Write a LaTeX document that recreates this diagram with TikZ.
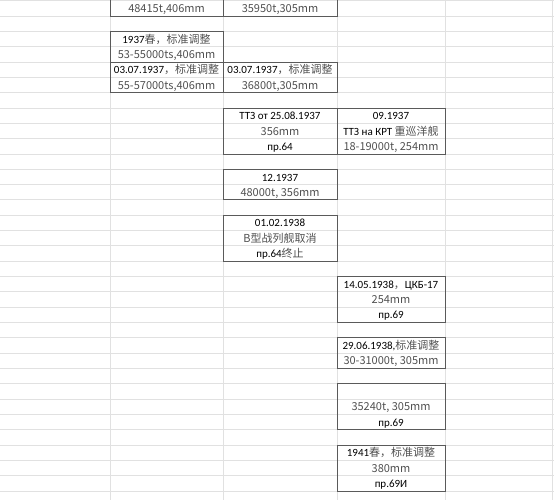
\documentclass[tikz,border=0pt]{standalone}
\usepackage{fontspec}
\setmainfont{Carlito}
\newfontfamily\cjk{Noto Sans CJK SC}
\usepackage{xcolor}
\definecolor{gridline}{RGB}{225,225,225}
\definecolor{cellborder}{RGB}{90,90,90}
\definecolor{songtext}{RGB}{80,80,80}
\newcommand{\zh}[1]{{\cjk\color{songtext}#1}}
\newcommand{\rowline}[1]{(0.8+15.32*(#1))}

\begin{document}
\begin{tikzpicture}[
    x=1pt, y=-1pt,
    every node/.style={font=\fontsize{11}{13}\selectfont, inner sep=0pt, anchor=base},
    grid/.style={draw=gridline, line width=1pt},
    cellbox/.style={draw=cellborder, line width=1pt}
]
\useasboundingbox (0,0) rectangle (554,500);

% sheet grid
\foreach \k in {0,...,32}
  \draw[grid] (0,{\rowline{\k}}) -- (554,{\rowline{\k}});
\foreach \x in {110,223,337,445,552}
  \draw[grid] (\x,0) -- (\x,500);

% bordered cells
\draw[cellbox] (110,0) -- (110,{\rowline{1}}) -- (337,{\rowline{1}}) -- (337,0);
\draw[cellbox] (223,0) -- (223,{\rowline{1}});
\draw[cellbox] (110,{\rowline{2}}) rectangle (223,{\rowline{4}});
\draw[cellbox] (110,{\rowline{4}}) rectangle (337,{\rowline{6}});
\draw[cellbox] (223,{\rowline{4}}) -- (223,{\rowline{6}});
\draw[cellbox] (223,{\rowline{7}}) rectangle (445,{\rowline{10}});
\draw[cellbox] (337,{\rowline{7}}) -- (337,{\rowline{10}});
\draw[cellbox] (223,{\rowline{11}}) rectangle (337,{\rowline{13}});
\draw[cellbox] (223,{\rowline{14}}) rectangle (337,{\rowline{17}});
\draw[cellbox] (337,{\rowline{18}}) rectangle (445,{\rowline{21}});
\draw[cellbox] (337,{\rowline{22}}) rectangle (445,{\rowline{24}});
\draw[cellbox] (337,{\rowline{25}}) rectangle (445,{\rowline{28}});
\draw[cellbox] (337,{\rowline{29}}) rectangle (445,{\rowline{32}});

% cell texts
\node (B0) at (166.5,{\rowline{0}+12.2}) {\zh{48415t,406mm}};
\node (C0) at (280,{\rowline{0}+12.2}) {\zh{35950t,305mm}};

\node (B2) at (166.5,{\rowline{2}+11.7}) {1937\zh{春，标准调整}};
\node (B3) at (166.5,{\rowline{3}+11.7}) {\zh{53-55000ts,406mm}};
\node (B4) at (166.5,{\rowline{4}+11.7}) {03.07.1937\zh{，标准调整}};
\node (B5) at (166.5,{\rowline{5}+11.7}) {\zh{55-57000ts,406mm}};
\node (C4) at (280,{\rowline{4}+11.7}) {03.07.1937\zh{，标准调整}};
\node (C5) at (280,{\rowline{5}+11.7}) {\zh{36800t,305mm}};

\node (C7) at (280,{\rowline{7}+11.7}) {ТТЗ от 25.08.1937};
\node (C8) at (280,{\rowline{8}+11.7}) {\zh{356mm}};
\node (C9) at (280,{\rowline{9}+11.7}) {пр.64};
\node (D7) at (391,{\rowline{7}+11.7}) {09.1937};
\node (D8) at (391,{\rowline{8}+11.7}) {ТТЗ на КРТ \zh{重巡洋舰}};
\node (D9) at (391,{\rowline{9}+11.7}) {\zh{18-19000t, 254mm}};

\node (C11) at (280,{\rowline{11}+11.7}) {12.1937};
\node (C12) at (280,{\rowline{12}+11.7}) {\zh{48000t, 356mm}};

\node (C14) at (280,{\rowline{14}+11.7}) {01.02.1938};
\node (C15) at (280,{\rowline{15}+11.7}) {\zh{B型战列舰取消}};
\node (C16) at (280,{\rowline{16}+11.7}) {пр.64\zh{终止}};

\node (D18) at (391,{\rowline{18}+11.7}) {14.05.1938\zh{，}ЦКБ-17};
\node (D19) at (391,{\rowline{19}+11.7}) {\zh{254mm}};
\node (D20) at (391,{\rowline{20}+11.7}) {пр.69};

\node (D22) at (391,{\rowline{22}+11.7}) {29.06.1938,\zh{标准调整}};
\node (D23) at (391,{\rowline{23}+11.7}) {\zh{30-31000t, 305mm}};

\node (D26) at (391,{\rowline{26}+11.7}) {\zh{35240t, 305mm}};
\node (D27) at (391,{\rowline{27}+11.7}) {пр.69};

\node (D29) at (391,{\rowline{29}+11.7}) {1941\zh{春，标准调整}};
\node (D30) at (391,{\rowline{30}+11.7}) {\zh{380mm}};
\node (D31) at (391,{\rowline{31}+11.7}) {пр.69И};
\end{tikzpicture}
\end{document}
